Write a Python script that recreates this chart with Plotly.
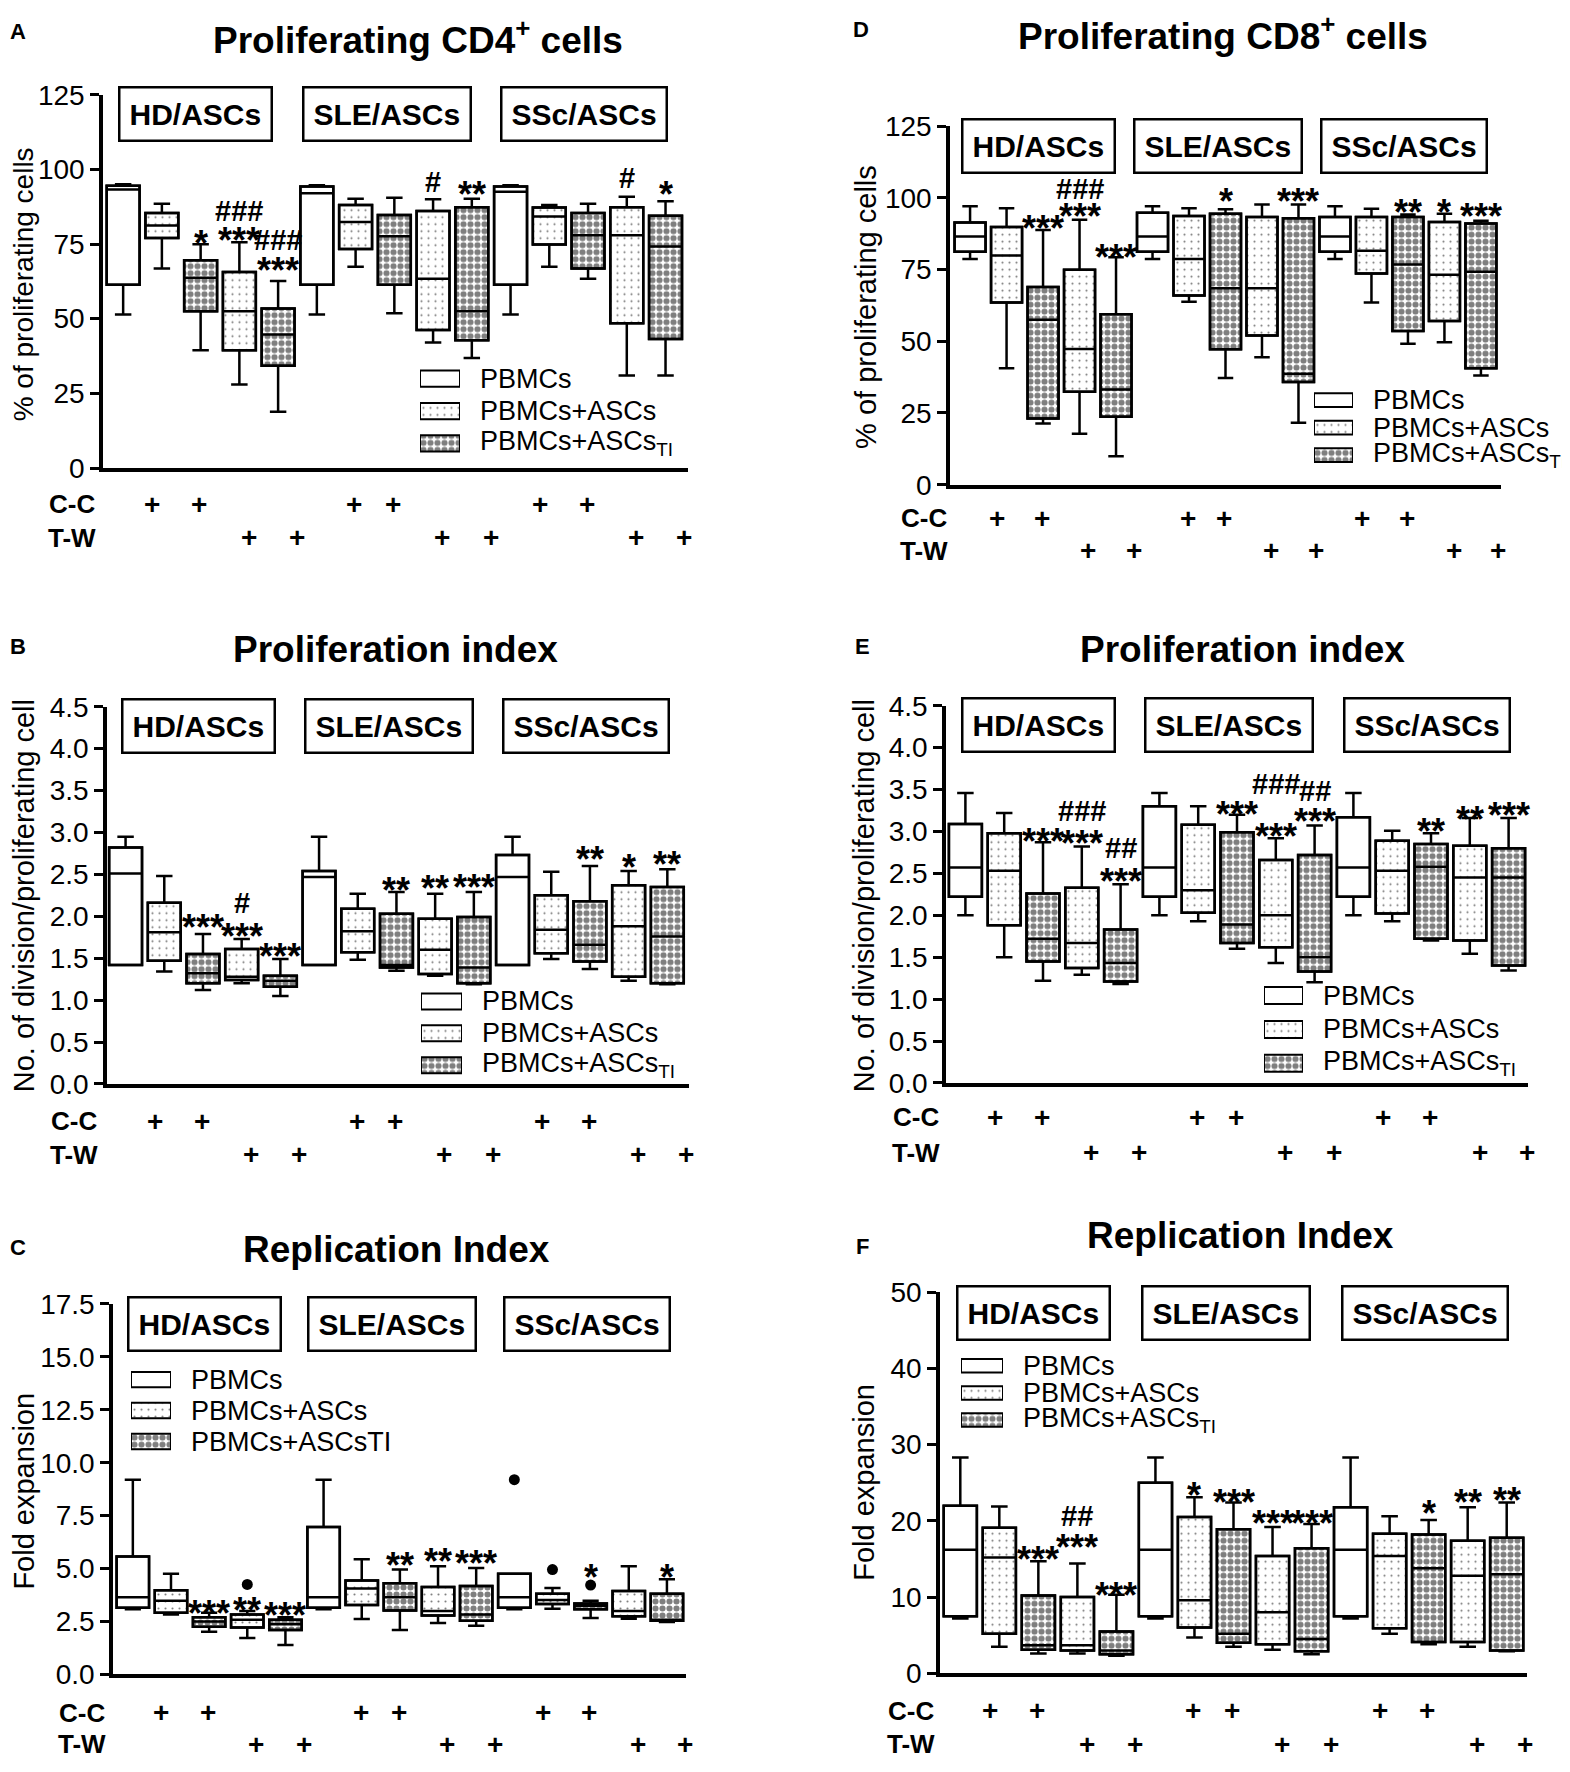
import plotly.graph_objects as go

# page body keeps its default 8px margin, so the figure is drawn 8px in from the corner
OFF = 8
W, H = 1570 - 2 * OFF, 1772 - 2 * OFF
FONT = "Arial, Liberation Sans, sans-serif"

# group/treatment type of each of the 15 boxes (P = PBMCs, A = +ASCs, T = +ASCs TI)
box_type = ["P", "A", "T", "A", "T",
            "P", "A", "T", "A", "T",
            "P", "A", "T", "A", "T"]
group_names = ["HD/ASCs", "SLE/ASCs", "SSc/ASCs"]
legend_names = ["PBMCs", "PBMCs+ASCs", "PBMCs+ASCs<sub>TI</sub>"]
legend_names_c = ["PBMCs", "PBMCs+ASCs", "PBMCs+ASCsTI"]

# A - proliferating CD4+ cells (%)
a_hi = [95, 88.5, 74.9, 75.6, 62.6, 94.7, 90.2, 90.5, 90, 90.2, 94.7, 88.1, 88.5, 90.8, 89.3]
a_q3 = [94.5, 85.4, 69.6, 65.6, 53.4, 94.3, 88.1, 84.7, 86.1, 87.3, 94.3, 87.2, 85.4, 87.3, 84.5]
a_med = [93.3, 81.2, 63.7, 52.5, 44.7, 92, 82.4, 77.6, 63.4, 52.5, 92.5, 84.2, 77.9, 77.9, 74.2]
a_q1 = [61.4, 77, 52.5, 39.4, 34.2, 61.4, 73.3, 61.4, 46.2, 42.8, 61.4, 74.8, 66.8, 48.5, 43.2]
a_lo = [51.4, 66.8, 39.4, 28, 18.8, 51.4, 67.4, 51.8, 42, 36.8, 51.4, 67.4, 63.4, 31, 31]
a_sig = [(2, 78, "*"), (3, 86, "###"), (3, 79, "***"), (4, 76.5, "###"), (4, 68.7, "***"),
         (8, 95.9, "#"), (9, 94.2, "**"), (13, 97, "#"), (14, 94.2, "*")]

# B - proliferation index CD4
b_hi = [2.95, 2.48, 1.79, 1.73, 1.49, 2.95, 2.27, 2.29, 2.27, 2.29, 2.95, 2.53, 2.60, 2.54, 2.56]
b_q3 = [2.82, 2.16, 1.55, 1.61, 1.29, 2.54, 2.09, 2.03, 1.97, 1.99, 2.73, 2.25, 2.18, 2.37, 2.35]
b_med = [2.51, 1.81, 1.32, 1.28, 1.23, 2.47, 1.82, 1.42, 1.60, 1.39, 2.47, 1.84, 1.66, 1.88, 1.76]
b_q1 = [1.42, 1.47, 1.20, 1.24, 1.16, 1.42, 1.57, 1.39, 1.31, 1.20, 1.42, 1.56, 1.46, 1.28, 1.20]
b_lo = [1.42, 1.34, 1.12, 1.20, 1.05, 1.42, 1.48, 1.35, 1.29, 1.19, 1.42, 1.49, 1.37, 1.23, 1.19]
b_sig = [(2, 1.96, "***"), (3, 2.16, "#"), (3, 1.85, "***"), (4, 1.61, "***"), (7, 2.40, "**"),
         (8, 2.43, "**"), (9, 2.44, "***"), (12, 2.77, "**"), (13, 2.68, "*"), (14, 2.71, "**")]

# C - replication index CD4
c_hi = [9.2, 4.75, 2.91, 2.99, 2.70, 9.2, 5.44, 4.95, 5.11, 5.03, 4.75, 4.08, 3.48, 5.11, 4.49]
c_q3 = [5.57, 3.97, 2.70, 2.83, 2.58, 6.96, 4.43, 4.30, 4.13, 4.17, 4.75, 3.81, 3.35, 3.94, 3.81]
c_med = [3.64, 3.48, 2.50, 2.58, 2.37, 3.64, 4.05, 3.64, 2.99, 2.83, 3.64, 3.51, 3.24, 2.99, 2.58]
c_q1 = [3.15, 2.91, 2.25, 2.21, 2.09, 3.15, 3.27, 3.02, 2.78, 2.53, 3.15, 3.32, 3.07, 2.75, 2.53]
c_lo = [3.07, 2.83, 2.01, 1.72, 1.39, 3.07, 2.61, 2.09, 2.42, 2.30, 3.07, 3.10, 2.66, 2.63, 2.47]
c_out_x = [3, 10, 11, 12]
c_out_y = [4.25, 9.2, 4.95, 4.22]
c_sig = [(2, 3.24, "***"), (3, 3.40, "**"), (4, 3.15, "***"), (7, 5.52, "**"), (8, 5.69, "**"),
         (9, 5.60, "***"), (12, 4.95, "*"), (14, 4.95, "*")]

# D - proliferating CD8+ cells (%)
d_hi = [97.1, 96.4, 88.8, 92.4, 79.3, 97.1, 96.4, 96, 97.7, 97.7, 97.1, 96.2, 94.2, 94.5, 92]
d_q3 = [91.4, 89.8, 68.9, 74.9, 59.4, 94.8, 93.7, 94.5, 93.3, 92.9, 93.3, 93.3, 93.3, 91.6, 91.1]
d_med = [86.5, 79.9, 57.5, 47.3, 33.2, 86.5, 78.7, 68.5, 68.5, 38.7, 86.5, 81.6, 76.8, 73.2, 74.2]
d_q1 = [81.2, 63.5, 23.1, 32.4, 23.7, 81.2, 66, 47.2, 52, 35.8, 81.2, 73.6, 53.6, 57.1, 40.6]
d_lo = [78.7, 40.6, 21.3, 17.8, 9.9, 78.7, 63.8, 37.2, 44.4, 21.6, 78.7, 63.5, 49.1, 49.7, 38.1]
d_sig = [(2, 92, "***"), (3, 103, "###"), (3, 96.4, "***"), (4, 81.9, "***"), (7, 101.5, "*"),
         (9, 101.5, "***"), (12, 97.7, "**"), (13, 97.7, "*"), (14, 96.4, "***")]

# E - proliferation index CD8
e_hi = [3.46, 3.22, 2.87, 2.82, 2.37, 3.46, 3.30, 3.20, 2.92, 3.07, 3.46, 3.01, 2.98, 3.16, 3.16]
e_q3 = [3.09, 2.98, 2.26, 2.33, 1.83, 3.30, 3.08, 2.99, 2.66, 2.72, 3.17, 2.89, 2.85, 2.83, 2.80]
e_med = [2.57, 2.53, 1.72, 1.67, 1.43, 2.57, 2.30, 1.89, 2.00, 1.50, 2.57, 2.53, 2.58, 2.45, 2.45]
e_q1 = [2.22, 1.88, 1.45, 1.37, 1.21, 2.22, 2.03, 1.67, 1.62, 1.33, 2.22, 2.02, 1.72, 1.70, 1.40]
e_lo = [2.00, 1.50, 1.22, 1.29, 1.18, 2.00, 1.93, 1.60, 1.43, 1.20, 2.00, 1.93, 1.70, 1.54, 1.34]
e_sig = [(2, 2.97, "***"), (3, 3.25, "###"), (3, 2.95, "***"), (4, 2.80, "##"), (4, 2.50, "***"),
         (7, 3.30, "***"), (8, 3.57, "###"), (8, 3.03, "***"), (9, 3.48, "##"), (9, 3.22, "***"),
         (12, 3.10, "**"), (13, 3.24, "**"), (14, 3.29, "***")]

# F - replication index CD8
f_hi = [28.3, 21.9, 14.7, 14.4, 10.3, 28.3, 23.1, 22.4, 19.2, 19.6, 28.3, 20.6, 20.1, 21.8, 22.4]
f_q3 = [22.0, 19.1, 10.2, 10.0, 5.5, 25.0, 20.5, 18.9, 15.4, 16.4, 21.8, 18.3, 18.2, 17.4, 17.8]
f_med = [16.2, 15.2, 3.7, 3.7, 3.0, 16.2, 9.6, 5.2, 8.0, 4.5, 16.2, 15.4, 13.8, 12.8, 13.0]
f_q1 = [7.5, 5.2, 3.1, 3.0, 2.5, 7.5, 6.0, 4.0, 3.8, 2.9, 7.5, 5.9, 4.1, 4.1, 3.0]
f_lo = [7.2, 3.5, 2.6, 2.6, 2.3, 7.2, 4.7, 3.5, 3.1, 2.5, 7.2, 5.2, 3.8, 3.5, 2.9]
f_sig = [(2, 16.0, "***"), (3, 20.7, "##"), (3, 17.5, "***"), (4, 11.3, "***"), (6, 24.4, "*"),
         (7, 23.5, "***"), (8, 20.7, "***"), (9, 20.7, "***"), (12, 22.0, "*"),
         (13, 23.4, "**"), (14, 23.7, "**")]

# co-culture / transwell "+" columns (category units) and group label centres
cc_pos = [0.75, 1.97, 5.97, 6.97, 10.75, 11.97]
tw_pos = [3.24, 4.48, 8.24, 9.49, 13.25, 14.47]
group_pos = [1.88, 6.8, 11.9]

# fill patterns
pat_shape = {"P": "", "A": ".", "T": "."}
pat_size = {"P": 8, "A": 7, "T": 7}
pat_solid = {"P": 0.1, "A": 0.07, "T": 0.6}

# panel layout (page pixels)
panels = [
    dict(k=1, letter="A", title="Proliferating CD4<sup>+</sup> cells", tpos=(418, 23), lpos=(18, 17),
         data=(a_q1, a_med, a_q3, a_lo, a_hi), sig=a_sig,
         xd=(103, 688), yd=(81, 461), xr=(-0.52, 14.58), ymax=125, dtick=25, fmt="d",
         ytitle="% of proliferating cells", ytpos=(23, 274), ytsize=28, rows=(498, 532), labx=72,
         leg_x=(420, 460), leg_rows=(370, 403, 436), names=legend_names, gy=118.5),
    dict(k=2, letter="B", title="Proliferation index", tpos=(395, 646), lpos=(18, 643),
         data=(b_q1, b_med, b_q3, b_lo, b_hi), sig=b_sig,
         xd=(107, 689), yd=(704, 1088), xr=(-0.48, 14.56), ymax=4.5, dtick=0.5, fmt=".1f",
         ytitle="No. of division/proliferating cell", ytpos=(24, 897), ytsize=29, rows=(1126, 1160), labx=74,
         leg_x=(421, 462), leg_rows=(1004, 1036, 1069), names=legend_names, gy=4.27),
    dict(k=3, letter="C", title="Replication Index", tpos=(397, 1257), lpos=(18, 1254),
         data=(c_q1, c_med, c_q3, c_lo, c_hi), sig=c_sig,
         xd=(113, 686), yd=(1312, 1689), xr=(-0.52, 14.5), ymax=17.5, dtick=2.5, fmt=".1f",
         ytitle="Fold expansion", ytpos=(24, 1503), ytsize=29, rows=(1728, 1760), labx=82,
         leg_x=(131, 171), leg_rows=(1389, 1421, 1452), names=legend_names_c, gy=16.55),
    dict(k=4, letter="D", title="Proliferating CD8<sup>+</sup> cells", tpos=(1223, 19), lpos=(861, 15),
         data=(d_q1, d_med, d_q3, d_lo, d_hi), sig=d_sig,
         xd=(950, 1501), yd=(113, 478), xr=(-0.55, 14.55), ymax=125, dtick=25, fmt="d",
         ytitle="% of proliferating cells", ytpos=(866, 297), ytsize=29, rows=(512, 545), labx=924,
         leg_x=(1314, 1353), leg_rows=(392, 420, 448), names=legend_names, gy=118),
    dict(k=5, letter="E", title="Proliferation index", tpos=(1242, 646), lpos=(862, 643),
         data=(e_q1, e_med, e_q3, e_lo, e_hi), sig=e_sig,
         xd=(946, 1528), yd=(703, 1087), xr=(-0.5, 14.5), ymax=4.5, dtick=0.5, fmt=".1f",
         ytitle="No. of division/proliferating cell", ytpos=(864, 897), ytsize=29, rows=(1122, 1158), labx=916,
         leg_x=(1264, 1303), leg_rows=(998, 1033, 1067), names=legend_names, gy=4.27),
    dict(k=6, letter="F", title="Replication Index", tpos=(1240, 1242), lpos=(862, 1253),
         data=(f_q1, f_med, f_q3, f_lo, f_hi), sig=f_sig,
         xd=(940, 1527), yd=(1300, 1688), xr=(-0.52, 14.52), ymax=50, dtick=10, fmt="d",
         ytitle="Fold expansion", ytpos=(864, 1494), ytsize=29, rows=(1726, 1760), labx=911,
         leg_x=(961, 1003), leg_rows=(1375, 1403, 1430), names=legend_names, gy=47.3),
]


def ax(prefix, k):
    return prefix if k == 1 else f"{prefix}{k}"


def px(x):
    return (x - OFF) / W


def py(y):
    return 1 - (y - OFF) / H


def paper_text(x, y, text, size, **kw):
    return dict(x=px(x), y=py(y), xref="paper", yref="paper", text=text, showarrow=False,
                xanchor="center", yanchor="middle", font=dict(size=size, color="black"), **kw)


fig = go.Figure()
annotations = []
layout = {}
xs = list(range(len(box_type)))

for p in panels:
    k = p["k"]
    xa, ya = ax("x", k), ax("y", k)
    q1, med, q3, lo, hi = p["data"]

    # patterned box bodies
    fig.add_trace(go.Bar(
        x=xs, base=q1, y=[b - a for a, b in zip(q1, q3)], width=0.85,
        marker=dict(color="white", line=dict(color="black", width=2.5),
                    pattern=dict(shape=[pat_shape[t] for t in box_type],
                                 size=[pat_size[t] for t in box_type],
                                 solidity=[pat_solid[t] for t in box_type],
                                 fgcolor="black", bgcolor="white")),
        xaxis=xa, yaxis=ya, showlegend=False, hoverinfo="skip"))
    # whiskers + median
    fig.add_trace(go.Box(
        x=xs, q1=q1, median=med, q3=q3, lowerfence=lo, upperfence=hi,
        width=0.85, whiskerwidth=0.5, fillcolor="rgba(0,0,0,0)",
        line=dict(color="black", width=2.5), boxpoints=False,
        xaxis=xa, yaxis=ya, showlegend=False, hoverinfo="skip"))
    if k == 3:
        fig.add_trace(go.Scatter(x=c_out_x, y=c_out_y, mode="markers",
                                 marker=dict(color="black", size=11),
                                 xaxis=xa, yaxis=ya, showlegend=False, hoverinfo="skip"))

    layout[ax("xaxis", k)] = dict(
        domain=[px(p["xd"][0]), px(p["xd"][1])], range=list(p["xr"]), anchor=ya,
        showline=True, linecolor="black", linewidth=4, showticklabels=False,
        ticks="", showgrid=False, zeroline=False, fixedrange=True)
    layout[ax("yaxis", k)] = dict(
        domain=[py(p["yd"][1]), py(p["yd"][0])], range=[0, p["ymax"]], anchor=xa,
        dtick=p["dtick"], tick0=0, tickformat=p["fmt"],
        showline=True, linecolor="black", linewidth=3.5, ticks="outside",
        ticklen=9, tickwidth=3, tickcolor="black", showgrid=False, zeroline=False,
        tickfont=dict(size=28, color="black"), fixedrange=True)

    # legend drawn on its own small axis
    lk = k + 6
    lxa, lya = ax("x", lk), ax("y", lk)
    r = p["leg_rows"]
    half = (r[2] - r[0]) / 4
    layout[ax("xaxis", lk)] = dict(domain=[px(p["leg_x"][0]), px(p["leg_x"][1])],
                                   range=[0, 1], visible=False, anchor=lya, fixedrange=True)
    layout[ax("yaxis", lk)] = dict(domain=[py(r[2] + half), py(r[0] - half)],
                                   range=[2.5, -0.5], visible=False, anchor=lxa, fixedrange=True)
    leg_types = ["P", "A", "T"]
    fig.add_trace(go.Bar(
        y=[0, 1, 2], x=[1, 1, 1], orientation="h", width=0.5,
        marker=dict(color="white", line=dict(color="black", width=2),
                    pattern=dict(shape=[pat_shape[t] for t in leg_types],
                                 size=[pat_size[t] for t in leg_types],
                                 solidity=[pat_solid[t] for t in leg_types],
                                 fgcolor="black", bgcolor="white")),
        xaxis=lxa, yaxis=lya, showlegend=False, hoverinfo="skip"))
    for i, name in enumerate(p["names"]):
        annotations.append(dict(x=1, y=i, xref=lxa, yref=lya, text=name, showarrow=False,
                                xanchor="left", yanchor="middle", xshift=18,
                                font=dict(size=27, color="black")))

    # group label boxes
    for gx, gname in zip(group_pos, group_names):
        annotations.append(dict(x=gx, y=p["gy"], xref=xa, yref=ya, text=f"<b>{gname}</b>",
                                showarrow=False, xanchor="center", yanchor="middle",
                                bordercolor="black", borderwidth=2.5, borderpad=9,
                                bgcolor="white", font=dict(size=30, color="black")))

    # significance marks
    for sx, sy, s in p["sig"]:
        star = "*" in s
        annotations.append(dict(x=sx, y=sy, xref=xa, yref=ya, text=f"<b>{s}</b>",
                                showarrow=False, xanchor="center", yanchor="middle",
                                yshift=-8 if star else 0,
                                font=dict(size=36 if star else 29, color="black")))

    # C-C / T-W rows
    for row_y, lab, pos in [(p["rows"][0], "C-C", cc_pos), (p["rows"][1], "T-W", tw_pos)]:
        annotations.append(paper_text(p["labx"], row_y, f"<b>{lab}</b>", 26))
        for cx in pos:
            annotations.append(dict(x=cx, y=py(row_y), xref=xa, yref="paper", text="<b>+</b>",
                                    showarrow=False, xanchor="center", yanchor="middle",
                                    font=dict(size=28, color="black")))

    # title, letter, y-axis title
    annotations.append(paper_text(p["tpos"][0], p["tpos"][1], f"<b>{p['title']}</b>", 37))
    annotations.append(paper_text(p["lpos"][0], p["lpos"][1], f"<b>{p['letter']}</b>", 22))
    annotations.append(paper_text(p["ytpos"][0], p["ytpos"][1], p["ytitle"], p["ytsize"],
                                  textangle=-90))

fig.update_layout(
    width=W, height=H, margin=dict(l=0, r=0, t=0, b=0),
    paper_bgcolor="white", plot_bgcolor="white",
    font=dict(family=FONT, color="black"),
    barmode="overlay", boxmode="overlay", showlegend=False,
    annotations=annotations, **layout)

fig.write_html("out.html")
